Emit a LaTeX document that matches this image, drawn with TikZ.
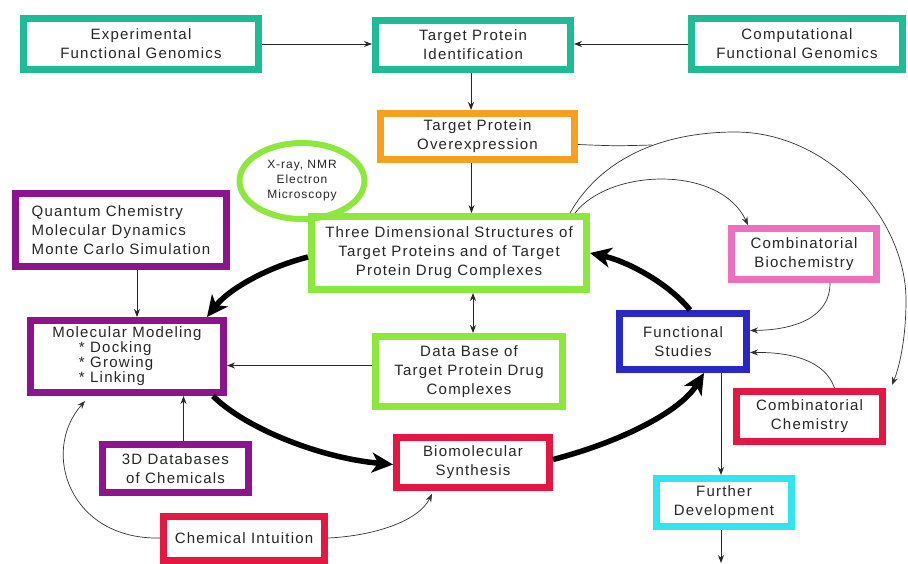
\documentclass[tikz,border=0pt]{standalone}
\usepackage{fontspec}
\setmainfont{Liberation Sans}[LetterSpace=8]
\usetikzlibrary{arrows.meta,shapes.geometric}
\definecolor{cteal}{RGB}{30,188,150}
\definecolor{corange}{RGB}{245,160,30}
\definecolor{cgreen}{RGB}{140,232,60}
\definecolor{cpurple}{RGB}{140,20,140}
\definecolor{cpink}{RGB}{240,110,190}
\definecolor{cblue}{RGB}{40,40,195}
\definecolor{cred}{RGB}{228,22,66}
\definecolor{ccyan}{RGB}{50,228,240}
\begin{document}
\begin{tikzpicture}[x=1pt,y=-1pt,
  boxst/.style={draw, line width=7pt, inner sep=0pt, align=center,
    font=\fontsize{15}{19}\selectfont, text=black!85},
  thinarr/.style={line width=0.9pt, draw=black!85, -{Stealth[length=8pt,width=6pt]}},
  curvarr/.style={line width=0.7pt, draw=black!80, -{Stealth[length=8pt,width=6pt]}},
  thickarr/.style={line width=5.5pt, draw=black, -{Stealth[length=21pt,width=20pt,inset=6pt]}}]
\fill[white] (0,0) rectangle (908,563);
\useasboundingbox (0,0) rectangle (908,563);

\node[boxst, draw=cteal, minimum width=235, minimum height=51] (exp) at (141,44) {Experimental\\Functional Genomics};
\node[boxst, draw=cteal, minimum width=195, minimum height=49] (tid) at (473,45) {Target Protein\\Identification};
\node[boxst, draw=cteal, minimum width=211, minimum height=51] (comp) at (797,44) {Computational\\Functional Genomics};
\node[boxst, draw=corange, minimum width=194, minimum height=46] (over) at (477.5,136.5) {Target Protein\\Overexpression};
\node[ellipse, draw=cgreen, line width=6pt, inner sep=0pt, minimum width=125, minimum height=76,
  align=center, font=\fontsize{12}{15}\selectfont, text=black!85] (xray) at (302,181) {X-ray, NMR\\Electron\\Microscopy};
\node[boxst, draw=cpurple, minimum width=211, minimum height=73, align=left] (qc) at (121,230) {Quantum Chemistry\\Molecular Dynamics\\Monte Carlo Simulation};
\node[boxst, draw=cgreen, minimum width=275, minimum height=73] (td) at (449,253) {Three Dimensional Structures of\\Target Proteins and of Target\\Protein Drug Complexes};
\node[boxst, draw=cpink, minimum width=145, minimum height=51] (cbio) at (804,254) {Combinatorial\\Biochemistry};
\node[boxst, draw=cpurple, minimum width=193, minimum height=72, font=\fontsize{15}{13}\selectfont] (mm) at (127,356.5)
  {Molecular Modeling\\\makebox[96pt][l]{* Docking}\\\makebox[96pt][l]{* Growing}\\\makebox[96pt][l]{* Linking}};
\node[boxst, draw=cgreen, minimum width=187, minimum height=70] (db) at (469,371.5) {Data Base of\\Target Protein Drug\\Complexes};
\node[boxst, draw=cblue, minimum width=127, minimum height=56] (fs) at (683,341.5) {Functional\\Studies};
\node[boxst, draw=cred, minimum width=146, minimum height=50] (cchem) at (809.5,416.5) {Combinatorial\\Chemistry};
\node[boxst, draw=cpurple, minimum width=146, minimum height=48] (d3) at (175.5,468.5) {3D Databases\\of Chemicals};
\node[boxst, draw=cred, minimum width=153, minimum height=50] (bio) at (473,462.5) {Biomolecular\\Synthesis};
\node[boxst, draw=ccyan, minimum width=135, minimum height=48] (fd) at (724,502.5) {Further\\Development};
\node[boxst, draw=cred, minimum width=161, minimum height=44] (ci) at (244,538) {Chemical Intuition};
\coordinate (fdend) at (721,563);

% straight thin arrows
\draw[thinarr] (exp.east) -- (exp.east -| tid.west);
\draw[thinarr] (comp.west) -- (comp.west -| tid.east);
\draw[thinarr] ([xshift=-2pt]tid.south) -- ([xshift=-2pt]tid.south |- over.north);
\draw[thinarr] ([xshift=-6pt]over.south) -- ([xshift=-6pt]over.south |- td.north);
\draw[thinarr, {Stealth[length=8pt,width=6pt]}-{Stealth[length=8pt,width=6pt]}] ([xshift=4pt]db.north) -- ([xshift=4pt]db.north |- td.south);
\draw[thinarr] ([xshift=16pt]qc.south) -- ([xshift=16pt]qc.south |- mm.north);
\draw[thinarr] ([yshift=6pt]db.west) -- ([yshift=6pt]db.west -| mm.east);
\draw[thinarr] ([xshift=8pt]d3.north) -- ([xshift=8pt]d3.north |- mm.south);
\draw[thinarr] ([xshift=38pt]fs.south) -- ([xshift=38pt]fs.south |- fd.north);
\draw[thinarr] ([xshift=-3pt]fd.south) -- (fdend);

% thick cycle arrows
\draw[thickarr] ([yshift=-4pt]td.west) .. controls (265,268) and (228,290) .. ([xshift=-20pt]mm.north east);
\draw[thickarr] ([xshift=-14pt]mm.south east) .. controls (245,428) and (320,458) .. ([yshift=-2pt]bio.west);
\draw[thickarr] ([yshift=3pt]bio.east) .. controls (620,442) and (680,412) .. ([xshift=21pt]fs.south);
\draw[thickarr] ([xshift=7pt]fs.north) .. controls (670,285) and (630,262) .. (td.east);

% thin curved arrows
\draw[curvarr] (ci.west) .. controls (70,540) and (40,452) .. ([xshift=58pt,yshift=-5pt]mm.south west);
\draw[curvarr] (ci.east) .. controls (372,536) and (418,522) .. ([xshift=-41pt,yshift=-3pt]bio.south);
\draw[curvarr] ([xshift=-20pt]td.north east) .. controls (600,160) and (660,132) .. (735,132)
   .. controls (830,132) and (906,220) .. (906,300)
   .. controls (906,340) and (899,368) .. ([xshift=6pt,yshift=3pt]cchem.north east);
\draw[line width=0.7pt, draw=black!80] ([yshift=-8pt]over.east) .. controls (615,146) .. (652,145);
\draw[curvarr] ([xshift=-15pt]td.north east) .. controls (610,168) and (720,165) .. ([xshift=-56pt]cbio.north);
\draw[curvarr] ([xshift=26pt]cbio.south) .. controls (830,320) and (790,330) .. ([yshift=11pt]fs.east);
\draw[curvarr] ([xshift=25pt]cchem.north) .. controls (825,360) and (790,352) .. ([yshift=-11pt]fs.east);
\end{tikzpicture}
\end{document}
